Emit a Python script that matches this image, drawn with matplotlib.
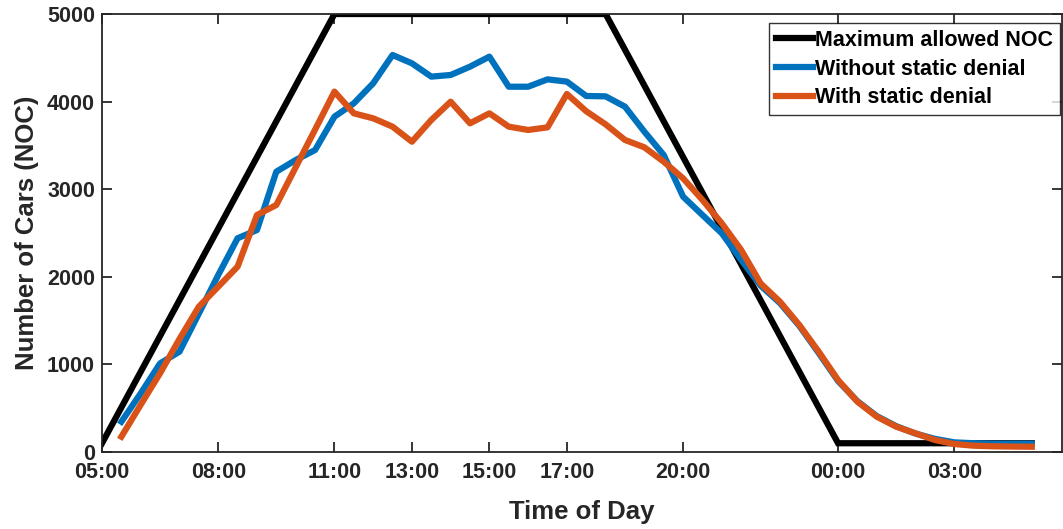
import numpy as np
import matplotlib.pyplot as plt

# hours after 05:00, sampled every half hour
hours = np.arange(0.5, 24.01, 0.5)

without_denial = [346, 670, 1012, 1145, 1580, 2020, 2440, 2534, 3200, 3333,
                  3447, 3828, 3980, 4209, 4532, 4437, 4285, 4304, 4399, 4513,
                  4170, 4170, 4254, 4228, 4064, 4060, 3942, 3657, 3390, 2915,
                  2705, 2496, 2192, 1900, 1700, 1440, 1130, 810, 580, 410,
                  295, 210, 150, 110, 100, 95, 95, 95]

with_denial = [175, 540, 900, 1290, 1659, 1887, 2116, 2705, 2820, 3250,
               3680, 4114, 3866, 3809, 3714, 3542, 3790, 3999, 3752, 3866,
               3714, 3676, 3706, 4087, 3890, 3740, 3562, 3478, 3314, 3124,
               2877, 2610, 2306, 1925, 1716, 1450, 1145, 822, 574, 403,
               289, 213, 137, 91, 72, 65, 62, 60]

# maximum allowed NOC corners
max_hours = [0, 6, 13, 19, 24]
max_noc = [100, 5000, 5000, 100, 100]

tick_hours = [0, 3, 6, 8, 10, 12, 15, 19, 22]
tick_labels = ['05:00', '08:00', '11:00', '13:00', '15:00', '17:00', '20:00', '00:00', '03:00']

plt.rcParams['font.family'] = ['Liberation Sans', 'DejaVu Sans']
plt.rcParams['font.weight'] = 'bold'

fig = plt.figure(figsize=(10.63, 5.29), dpi=100)
ax = fig.add_axes([102 / 1063, 1 - 452 / 529, 960 / 1063, 438 / 529])

ax.plot(max_hours, max_noc, color='black', linewidth=4.5, label='Maximum allowed NOC',
        solid_joinstyle='miter')
ax.plot(hours, without_denial, color='#0072BD', linewidth=4.5, label='Without static denial')
ax.plot(hours, with_denial, color='#D95319', linewidth=4.5, label='With static denial')

ax.set_xlim(0, 960 / 38.74)
ax.set_ylim(0, 5000)
ax.set_xticks(tick_hours)
ax.set_xticklabels(tick_labels)
ax.set_yticks(range(0, 5001, 1000))

dark = '#262626'
for s in ax.spines.values():
    s.set_color(dark)
    s.set_linewidth(1.3)
ax.tick_params(direction='in', length=7, width=1.3, color=dark, labelcolor=dark,
               labelsize=15.5, top=True, right=True, pad=5)
ax.tick_params(axis='x', pad=7.5)
for lab in ax.get_xticklabels() + ax.get_yticklabels():
    lab.set_fontweight('bold')

ax.set_xlabel('Time of Day', fontsize=18.5, fontweight='bold', color=dark, labelpad=12)
ax.set_ylabel('Number of Cars (NOC)', fontsize=18.5, fontweight='bold', color=dark, labelpad=6)

leg = ax.legend(loc='upper right', bbox_to_anchor=(1060 / 1063, 1 - 23 / 529),
                bbox_transform=fig.transFigure, fontsize=15.5, frameon=True,
                fancybox=False, edgecolor='black', handlelength=1.7,
                handletextpad=0.1, borderpad=0.32, labelspacing=0.36,
                borderaxespad=0)
leg.get_frame().set_linewidth(1.0)
for t in leg.get_texts():
    t.set_fontweight('bold')

fig.savefig('out.png', dpi=100)
